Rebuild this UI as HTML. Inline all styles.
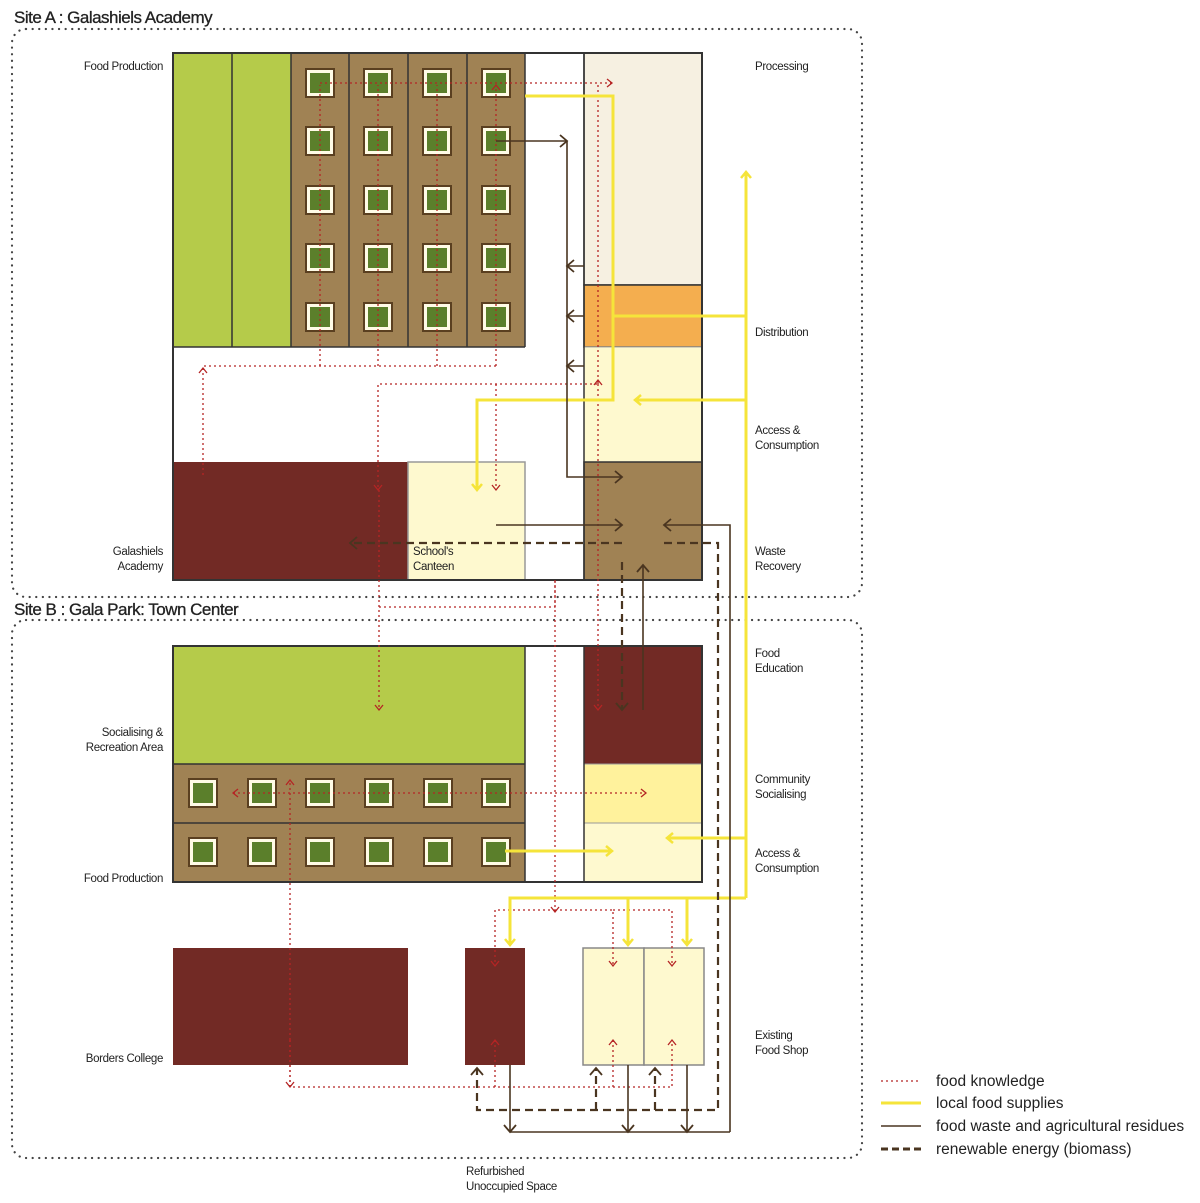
<!DOCTYPE html>
<html><head><meta charset="utf-8"><style>
html,body{margin:0;padding:0;background:#fff;}
svg{display:block;font-family:"Liberation Sans",sans-serif;}
.l{font-size:11.5px;fill:#222;letter-spacing:-0.35px;}
.t{font-size:17px;fill:#222;letter-spacing:-0.5px;stroke:#222;stroke-width:0.3;}
.lg{font-size:15.5px;fill:#222;}
.y{stroke:#f5e43a;stroke-width:3;fill:none;}
.b{stroke:#4a3520;stroke-width:1.6;fill:none;}
.d{stroke:#4a3520;stroke-width:2.2;fill:none;stroke-dasharray:8 5;}
.r{stroke:#b52424;stroke-width:1.3;fill:none;stroke-dasharray:2 3;}
</style></head><body>
<svg width="1200" height="1203" viewBox="0 0 1200 1203" xmlns="http://www.w3.org/2000/svg">
<defs>
<marker id="my" markerWidth="12" markerHeight="12" refX="9" refY="6" orient="auto" markerUnits="userSpaceOnUse"><path d="M3,1 L9,6 L3,11" fill="none" stroke="#f5e43a" stroke-width="2.5"/></marker>
<marker id="mb" markerWidth="14" markerHeight="14" refX="11" refY="7" orient="auto" markerUnits="userSpaceOnUse"><path d="M4,1 L11,7 L4,13" fill="none" stroke="#4a3520" stroke-width="1.8"/></marker>
<marker id="mr" markerWidth="10" markerHeight="10" refX="7" refY="5" orient="auto" markerUnits="userSpaceOnUse"><path d="M2,1 L7,5 L2,9" fill="none" stroke="#b52424" stroke-width="1.3"/></marker>
<g id="sq"><rect x="-14" y="-14" width="28" height="28" fill="#fffbe6" stroke="#5a3f20" stroke-width="2"/><rect x="-10" y="-10" width="20" height="20" fill="#5b7f2b"/></g>
</defs>

<rect x="12" y="29" width="850" height="568" rx="14" fill="none" stroke="#444" stroke-width="2.2" stroke-linecap="round" stroke-dasharray="0.1 6.5"/>
<rect x="12" y="620" width="850" height="538" rx="14" fill="none" stroke="#444" stroke-width="2.2" stroke-linecap="round" stroke-dasharray="0.1 6.5"/>
<text x="14" y="23" class="t">Site A : Galashiels Academy</text>
<text x="14" y="615" class="t">Site B : Gala Park: Town Center</text>

<rect x="173" y="53" width="529" height="527" fill="#fff"/>
<rect x="173" y="53" width="118" height="294" fill="#b5cb4a"/>
<line x1="232" y1="53" x2="232" y2="347" stroke="#333" stroke-width="1.5"/>
<rect x="291" y="53" width="234" height="294" fill="#a08254"/>
<g stroke="#333" stroke-width="1.5"><line x1="291" y1="53" x2="291" y2="347"/><line x1="349" y1="53" x2="349" y2="347"/><line x1="408" y1="53" x2="408" y2="347"/><line x1="467" y1="53" x2="467" y2="347"/><line x1="525" y1="53" x2="525" y2="347"/><line x1="173" y1="347" x2="525" y2="347"/></g>
<g>
<use href="#sq" x="320" y="83"/><use href="#sq" x="378" y="83"/><use href="#sq" x="437" y="83"/><use href="#sq" x="496" y="83"/>
<use href="#sq" x="320" y="141"/><use href="#sq" x="378" y="141"/><use href="#sq" x="437" y="141"/><use href="#sq" x="496" y="141"/>
<use href="#sq" x="320" y="200"/><use href="#sq" x="378" y="200"/><use href="#sq" x="437" y="200"/><use href="#sq" x="496" y="200"/>
<use href="#sq" x="320" y="258"/><use href="#sq" x="378" y="258"/><use href="#sq" x="437" y="258"/><use href="#sq" x="496" y="258"/>
<use href="#sq" x="320" y="317"/><use href="#sq" x="378" y="317"/><use href="#sq" x="437" y="317"/><use href="#sq" x="496" y="317"/>
</g>
<rect x="584" y="53" width="118" height="232" fill="#f6f0e1" stroke="#333" stroke-width="1.5"/>
<rect x="584" y="285" width="118" height="62" fill="#f4ae4f" stroke="#333" stroke-width="1.5"/>
<rect x="584" y="347" width="118" height="115" fill="#fef9cf" stroke="#aaa" stroke-width="1"/>
<rect x="584" y="462" width="118" height="118" fill="#a08254" stroke="#333" stroke-width="1.5"/>
<rect x="173" y="462" width="235" height="118" fill="#722a25"/>
<rect x="408" y="462" width="117" height="118" fill="#fef9cf" stroke="#999" stroke-width="1.5"/>
<line x1="584" y1="53" x2="584" y2="580" stroke="#333" stroke-width="1.5"/>
<rect x="173" y="53" width="529" height="527" fill="none" stroke="#333" stroke-width="2"/>

<rect x="173" y="646" width="529" height="236" fill="#fff"/>
<rect x="173" y="646" width="352" height="118" fill="#b5cb4a"/>
<rect x="173" y="764" width="352" height="118" fill="#a08254"/>
<g stroke="#333" stroke-width="1.5"><line x1="173" y1="764" x2="525" y2="764"/><line x1="173" y1="823" x2="525" y2="823"/><line x1="525" y1="646" x2="525" y2="882"/></g>
<g>
<use href="#sq" x="203" y="793"/><use href="#sq" x="262" y="793"/><use href="#sq" x="320" y="793"/><use href="#sq" x="379" y="793"/><use href="#sq" x="438" y="793"/><use href="#sq" x="496" y="793"/>
<use href="#sq" x="203" y="852"/><use href="#sq" x="262" y="852"/><use href="#sq" x="320" y="852"/><use href="#sq" x="379" y="852"/><use href="#sq" x="438" y="852"/><use href="#sq" x="496" y="852"/>
</g>
<rect x="584" y="646" width="118" height="118" fill="#722a25"/>
<rect x="584" y="764" width="118" height="59" fill="#fff29c" stroke="#999" stroke-width="1"/>
<rect x="584" y="823" width="118" height="59" fill="#fef9cf" stroke="#999" stroke-width="1"/>
<line x1="584" y1="646" x2="584" y2="882" stroke="#333" stroke-width="1.5"/>
<rect x="173" y="646" width="529" height="236" fill="none" stroke="#333" stroke-width="2"/>

<rect x="173" y="948" width="235" height="117" fill="#722a25"/>
<rect x="465" y="948" width="60" height="117" fill="#722a25"/>
<rect x="583" y="948" width="61" height="117" fill="#fef9cf" stroke="#888" stroke-width="1.5"/>
<rect x="644" y="948" width="60" height="117" fill="#fef9cf" stroke="#888" stroke-width="1.5"/>

<path class="r" d="M320,366 V85 M378,366 V85 M437,366 V85 M496,366 V85" marker-end="url(#mr)"/>
<path class="r" d="M320,83 H612" marker-end="url(#mr)"/>
<path class="r" d="M496,366 H203 V368" />
<path class="r" d="M203,475 V368" marker-end="url(#mr)"/>
<path class="r" d="M598,85 V384 H378 V490" marker-end="url(#mr)"/>
<path class="r" d="M598,384 V380" marker-end="url(#mr)"/>
<path class="r" d="M496,384 V490" marker-end="url(#mr)"/>
<path class="r" d="M379,490 V710" marker-end="url(#mr)"/>
<path class="r" d="M598,384 V710" marker-end="url(#mr)"/>
<path class="r" d="M379,607 H555 V580"/>
<path class="r" d="M555,580 V912" marker-end="url(#mr)"/>
<path class="r" d="M555,910 H495 V966" marker-end="url(#mr)"/>
<path class="r" d="M555,910 H613 V966" marker-end="url(#mr)"/>
<path class="r" d="M613,910 H672 V966" marker-end="url(#mr)"/>
<path class="r" d="M290,1040 V1087 H672 V1040" marker-end="url(#mr)"/>
<path class="r" d="M495,1087 V1040" marker-end="url(#mr)"/>
<path class="r" d="M613,1087 V1040" marker-end="url(#mr)"/>
<path class="r" d="M290,1040 V1087" marker-end="url(#mr)"/>
<path class="r" d="M290,1040 V780" marker-end="url(#mr)"/>
<path class="r" d="M440,793 H233" marker-end="url(#mr)"/>
<path class="r" d="M440,793 H646" marker-end="url(#mr)"/>

<path class="y" d="M525,96 H613 V400 H477 V490" marker-end="url(#my)"/>
<path class="y" d="M613,316 H746"/>
<path class="y" d="M746,898 V172" marker-end="url(#my)"/>
<path class="y" d="M746,400 H635" marker-end="url(#my)"/>
<path class="y" d="M746,838 H667" marker-end="url(#my)"/>
<path class="y" d="M746,898 H510 V945" marker-end="url(#my)"/>
<path class="y" d="M628,898 V945" marker-end="url(#my)"/>
<path class="y" d="M687,898 V945" marker-end="url(#my)"/>
<path class="y" d="M505,851 H612" marker-end="url(#my)"/>

<path class="b" d="M496,141 H567" marker-end="url(#mb)"/>
<path class="b" d="M567,141 V477 H622" marker-end="url(#mb)"/>
<path class="b" d="M584,266 H567" marker-end="url(#mb)"/>
<path class="b" d="M584,316 H567" marker-end="url(#mb)"/>
<path class="b" d="M584,366 H567" marker-end="url(#mb)"/>
<path class="b" d="M496,525 H622" marker-end="url(#mb)"/>
<path class="b" d="M730,1132 V525 H664" marker-end="url(#mb)"/>
<path class="b" d="M643,710 V565" marker-end="url(#mb)"/>
<path class="b" d="M730,1132 H510"/>
<path class="b" d="M510,1065 V1132" marker-end="url(#mb)"/>
<path class="b" d="M628,1065 V1132" marker-end="url(#mb)"/>
<path class="b" d="M687,1065 V1132" marker-end="url(#mb)"/>

<path class="d" d="M622,543 H350" marker-end="url(#mb)"/>
<path class="d" d="M664,543 H718 V1110 H477 V1068" marker-end="url(#mb)"/>
<path class="d" d="M596,1110 V1068" marker-end="url(#mb)"/>
<path class="d" d="M655,1110 V1068" marker-end="url(#mb)"/>
<path class="d" d="M622,562 V710" marker-end="url(#mb)"/>

<g class="l">
<text x="163" y="70" text-anchor="end">Food Production</text>
<text x="755" y="70">Processing</text>
<text x="755" y="336">Distribution</text>
<text x="755" y="434">Access &amp;</text><text x="755" y="449">Consumption</text>
<text x="163" y="555" text-anchor="end">Galashiels</text><text x="163" y="570" text-anchor="end">Academy</text>
<text x="413" y="555">School's</text><text x="413" y="570">Canteen</text>
<text x="755" y="555">Waste</text><text x="755" y="570">Recovery</text>
<text x="755" y="657">Food</text><text x="755" y="672">Education</text>
<text x="163" y="736" text-anchor="end">Socialising &amp;</text><text x="163" y="751" text-anchor="end">Recreation Area</text>
<text x="755" y="783">Community</text><text x="755" y="798">Socialising</text>
<text x="755" y="857">Access &amp;</text><text x="755" y="872">Consumption</text>
<text x="163" y="882" text-anchor="end">Food Production</text>
<text x="163" y="1062" text-anchor="end">Borders College</text>
<text x="755" y="1039">Existing</text><text x="755" y="1054">Food Shop</text>
<text x="466" y="1175">Refurbished</text><text x="466" y="1190">Unoccupied Space</text>
</g>

<line x1="881" y1="1081" x2="921" y2="1081" class="r"/>
<line x1="881" y1="1103" x2="921" y2="1103" stroke="#f5e43a" stroke-width="3"/>
<line x1="881" y1="1126" x2="921" y2="1126" stroke="#4a3520" stroke-width="1.6"/>
<line x1="881" y1="1149" x2="921" y2="1149" stroke="#4a3520" stroke-width="3" stroke-dasharray="7 4"/>
<g class="lg">
<text x="936" y="1086">food knowledge</text>
<text x="936" y="1108">local food supplies</text>
<text x="936" y="1131">food waste and agricultural residues</text>
<text x="936" y="1154">renewable energy (biomass)</text>
</g>
</svg>
</body></html>
